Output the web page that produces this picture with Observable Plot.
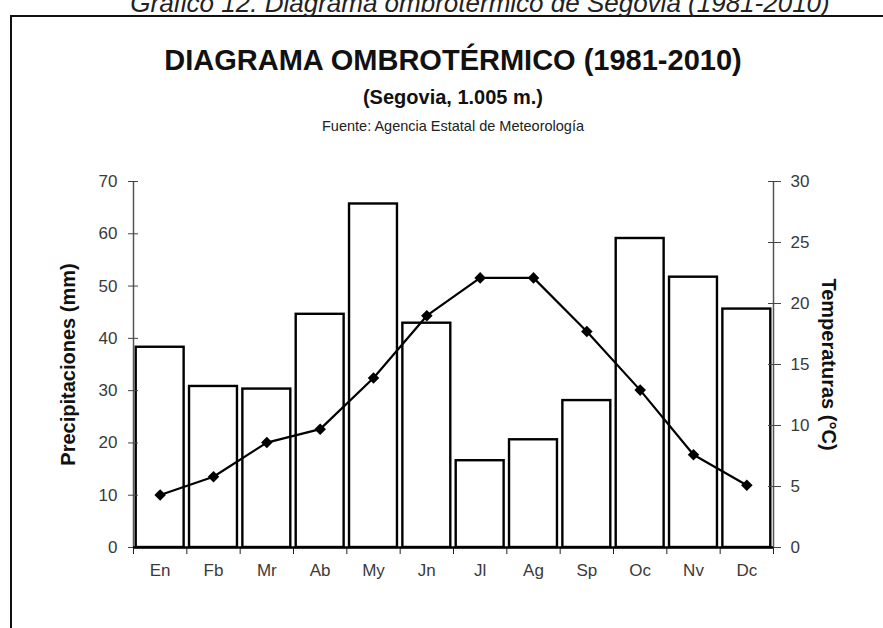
<!DOCTYPE html>
<html>
<head>
<meta charset="utf-8">
<script src="https://cdn.jsdelivr.net/npm/d3@7"></script>
<script src="https://cdn.jsdelivr.net/npm/@observablehq/plot@0.6"></script>
<style>
  html, body { margin: 0; padding: 0; background: #fff; }
  #wrap { position: relative; width: 883px; height: 628px; overflow: hidden; background: #fff;
          font-family: "Liberation Sans", Arial, Helvetica, sans-serif; color: #111; }
  #frame { position: absolute; left: 10px; top: 15px; width: 1000px; height: 1000px;
           border-left: 2px solid #111; border-top: 2px solid #111; box-sizing: border-box; }
  .t { position: absolute; white-space: nowrap; text-align: center; }
  #caption { left: -20px; width: 1000px; top: -10px; font-size: 26px; line-height: 26px; font-style: italic; color: #222; }
  #title { left: -47px; width: 1000px; top: 45.5px; font-size: 29px; line-height: 29px; font-weight: bold; }
  #subtitle { left: -47px; width: 1000px; top: 87px; font-size: 20px; line-height: 20px; font-weight: bold; }
  #source { left: -47px; width: 1000px; top: 119px; font-size: 14.5px; line-height: 14.5px; color: #222; }
  #plot { position: absolute; left: 0; top: 140px; }
</style>
</head>
<body>
<div id="wrap">
  <div id="frame"></div>
  <div class="t" id="caption">Gráfico 12. Diagrama ombrotérmico de Segovia (1981-2010)</div>
  <div class="t" id="title">DIAGRAMA OMBROTÉRMICO (1981-2010)</div>
  <div class="t" id="subtitle">(Segovia, 1.005 m.)</div>
  <div class="t" id="source">Fuente: Agencia Estatal de Meteorología</div>
  <div id="plot"></div>
</div>
<script>
const months = ["En", "Fb", "Mr", "Ab", "My", "Jn", "Jl", "Ag", "Sp", "Oc", "Nv", "Dc"];
const precipitation = [38.3, 30.8, 30.3, 44.6, 65.7, 42.9, 16.6, 20.6, 28.1, 59.1, 51.7, 45.6];
const temperature = [4.3, 5.8, 8.6, 9.7, 13.9, 19.0, 22.1, 22.1, 17.7, 12.9, 7.6, 5.1];
const precipTicks = [0, 10, 20, 30, 40, 50, 60, 70];
const tempTicks = [0, 5, 10, 15, 20, 25, 30];
const precipMax = 70;
const tempMax = 30;

const k = precipMax / tempMax; // temperature -> precipitation scale
const data = months.map((m, i) => ({month: m, i, p: precipitation[i], t: temperature[i]}));

const chart = Plot.plot({
  width: 883,
  height: 488,
  marginLeft: 133,
  marginRight: 110,
  marginTop: 41,
  marginBottom: 81,
  style: {background: "none", fontFamily: "'Liberation Sans', Arial, sans-serif", fontSize: "17px", color: "#333"},
  x: {domain: [0, months.length], axis: null},
  y: {domain: [0, precipMax], axis: null},
  marks: [
    Plot.rectY(data, {x1: "i", x2: d => d.i + 1, y: "p", insetLeft: 2.7, insetRight: 2.7,
      fill: "#fff", stroke: "#000", strokeWidth: 2.4}),
    Plot.ruleX([0], {y1: 0, y2: precipMax, stroke: "#555", strokeWidth: 1.5}),
    Plot.ruleX([months.length], {y1: 0, y2: precipMax, stroke: "#555", strokeWidth: 1.5}),
    Plot.axisY(precipTicks, {anchor: "left", label: null, tickSize: 10, dx: 5, tickPadding: 11, stroke: "#444",
      fill: "#3a3a3a", fontSize: 17}),
    Plot.axisY(tempTicks.map(t => t * k), {anchor: "right", label: null, tickSize: 13, dx: -6, tickPadding: 10,
      tickFormat: d => Math.round(d / k), stroke: "#444", fill: "#3a3a3a", fontSize: 17}),
    Plot.axisX(d3.range(months.length + 1), {anchor: "bottom", label: null, tickSize: 7, tickFormat: () => "", stroke: "#222"}),
    Plot.axisX(data.map(d => d.i + 0.5), {anchor: "bottom", label: null, tickSize: 0, tickPadding: 16,
      tickFormat: d => months[Math.floor(d)], fill: "#3a3a3a", fontSize: 17}),
    Plot.ruleY([0], {x1: 0, x2: months.length, stroke: "#000", strokeWidth: 2.5}),
    Plot.line(data, {x: d => d.i + 0.5, y: d => d.t * k, stroke: "#000", strokeWidth: 2.2}),
    Plot.dot(data, {x: d => d.i + 0.5, y: d => d.t * k, symbol: "diamond2", r: 5.2, fill: "#000", stroke: "none"}),
    Plot.text(["Precipitaciones (mm)"], {frameAnchor: "left", dx: -65, rotate: -90, textAnchor: "middle",
      lineAnchor: "middle", fontWeight: "bold", fontSize: 20, fill: "#111"}),
    Plot.text(["Temperaturas (°C)"], {frameAnchor: "right", dx: 55, rotate: 90, textAnchor: "middle",
      lineAnchor: "middle", fontWeight: "bold", fontSize: 20, fill: "#111"})
  ]
});
document.getElementById("plot").appendChild(chart);
</script>
</body>
</html>
